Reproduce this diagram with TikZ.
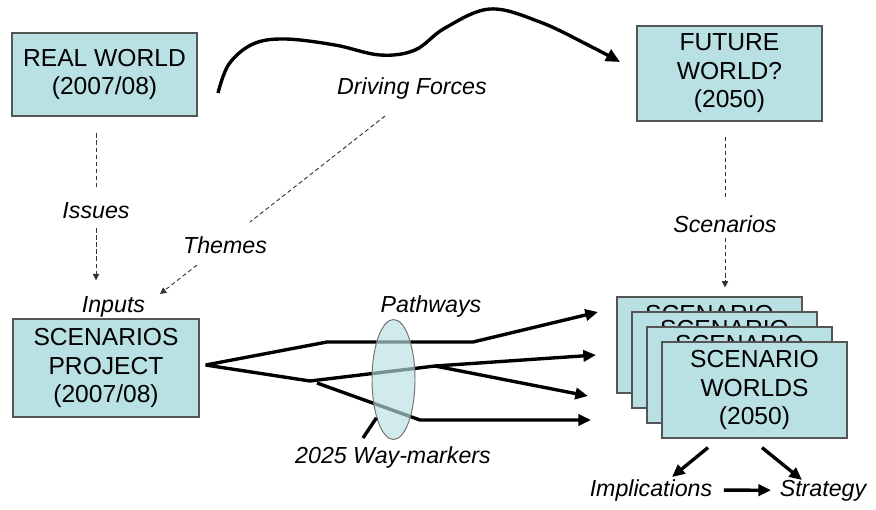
\documentclass[tikz,border=0pt]{standalone}
\usepackage{fontspec}
\setmainfont{Liberation Sans}
\usepackage{tikz}
\usetikzlibrary{positioning}
\usetikzlibrary{calc}
\usetikzlibrary{arrows.meta}
\usetikzlibrary{shapes.geometric}

\definecolor{worldfill}{RGB}{185,224,227}
\definecolor{worldline}{RGB}{85,85,85}

\begin{document}
\begin{tikzpicture}[
  x=0.025cm, y=-0.025cm,
  world/.style={
      draw=worldline,
      fill=worldfill,
      line width=0.8pt,
      minimum width=4.625cm,
      align=center,
      font=\fontsize{17.5}{20.3}\selectfont
  },
  lbl/.style={
      anchor=base,
      inner sep=2pt,
      font=\fontsize{16.5}{19}\selectfont\itshape
  },
  dlink/.style={
      draw=black!80,
      line width=0.65pt,
      dash pattern=on 3pt off 2pt
  },
  dtip/.style={-{Triangle[length=4.5pt,width=4.5pt]}},
  pathway/.style={
      line width=2.4pt,
      -{Triangle[length=9pt,width=8pt]}
  }
]
\useasboundingbox (0,0) rectangle (876,509);

% the four main boxes
\node[world, minimum height=2.075cm] (realworld) at (104.5,74.5) {REAL WORLD\\(2007/08)};
\node[world, minimum height=2.375cm] (futureworld) at (729.5,73.5) {FUTURE\\WORLD?\\(2050)};
\node[world, minimum width=4.65cm, minimum height=2.45cm] (project) at (106,368) {SCENARIOS\\PROJECT\\(2007/08)};

\foreach \i in {1,...,4} {
  \node[world, minimum height=2.4cm] (scen\i) at (694.5+15*\i,330+15*\i) {SCENARIO\\WORLDS\\(2050)};
}

% labels
\node[lbl] (driving) at (412,94) {Driving Forces};
\node[lbl] (issues) at (96,218) {Issues};
\node[lbl] (themes) at (225,253) {Themes};
\node[lbl] (scenlbl) at (725,232) {Scenarios};
\node[lbl] (inputs) at (113.5,312) {Inputs};
\node[lbl] (pathways) at (431,312) {Pathways};
\node[lbl] (waymark) at (393,463) {2025 Way-markers};
\node[lbl] (implications) at (651,496) {Implications};
\node[lbl] (strategy) at (823,496) {Strategy};

% driving forces curve
\draw[line width=2.4pt, -{Triangle[length=10pt,width=9pt]}]
  plot[smooth, tension=0.6] coordinates {(218,93) (229,64) (253,44) (285,39) (335,45) (380,55) (415,50) (445,28) (490,9) (540,22) (590,46) (620,62)};

% dashed links
\draw[dlink, shorten <=12pt, shorten >=8.5pt] (realworld.south -| issues) -- (issues.north);
\draw[dlink, dtip, shorten <=5pt, shorten >=9pt] (issues.south) -- (issues.south |- inputs.north);
\draw[dlink] ($(driving.base)+(-27,22)$) -- ($(themes.base)+(25,-31)$);
\draw[dlink, dtip] ($(themes.base)+(-28,12)$) -- ($(inputs.base)+(46.5,-18)$);
\draw[dlink, shorten <=10.7pt, shorten >=9pt] (futureworld.south -| scenlbl) -- (scenlbl.north);
\draw[dlink, dtip, shorten <=2pt, shorten >=6.4pt] (scenlbl.south) -- (scenlbl.south |- scen1.north);

% pathways
\coordinate (fork) at ($(project.east)+(6,-3)$);
\coordinate (kneeA) at (327,342);
\coordinate (kneeB) at (473,342);
\coordinate (endA) at (598,312);
\coordinate (kneeC) at (310,381);
\coordinate (split) at (435,366);
\coordinate (endB) at (596,355);
\coordinate (endC) at (588,396);
\coordinate (kneeD) at (317,383);
\coordinate (kneeE) at (420,420);
\coordinate (endD) at (591,420);

\draw[pathway] (fork) -- (kneeA) -- (kneeB) -- (endA);
\draw[pathway] (fork) -- (kneeC) -- (split) -- (endB);
\draw[pathway] (split) -- (endC);
\draw[pathway] (kneeD) -- (kneeE) -- (endD);

\node[ellipse, draw=black!55, line width=0.7pt, fill=worldfill, fill opacity=0.65,
      minimum width=1.075cm, minimum height=3cm, inner sep=0pt] (marker) at (393.5,379.5) {};
\draw[line width=2.4pt] ($(waymark.base)+(-30,-25)$) -- (marker.246);

% outcomes
\draw[pathway] ($(scen4.south)+(-46.5,9)$) -- ($(implications.base)+(21,-19)$);
\draw[pathway] ($(scen4.south)+(7.5,9)$) -- ($(strategy.base)+(-21,-16)$);
\draw[pathway, shorten <=6pt, shorten >=4pt] (implications) -- (strategy);

\end{tikzpicture}
\end{document}
